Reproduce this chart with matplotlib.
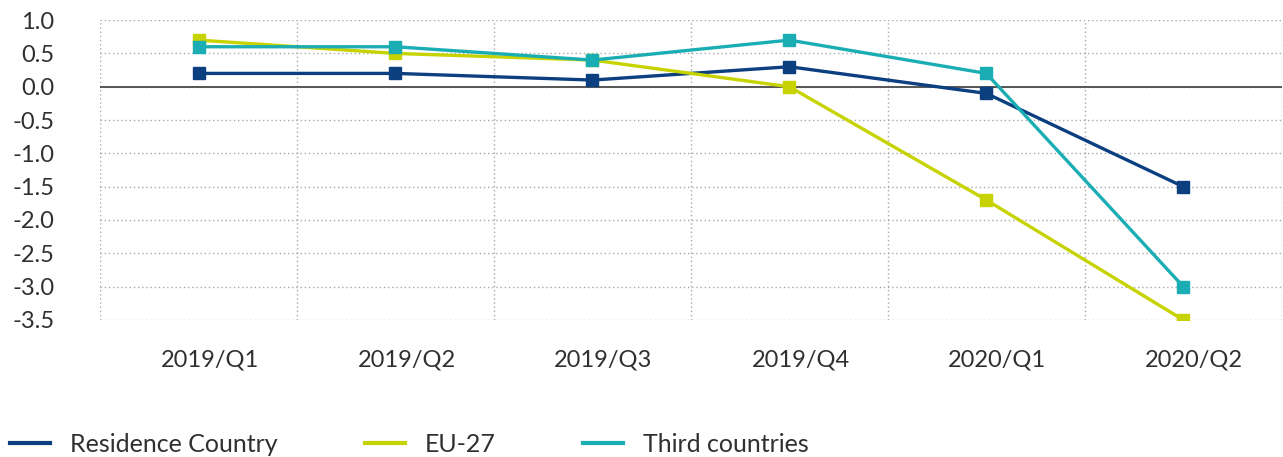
"""Quarterly change by origin of guests, 2019/Q1 - 2020/Q2."""

import matplotlib

matplotlib.use("Agg")
import matplotlib.pyplot as plt
from matplotlib.transforms import ScaledTranslation

quarters = ["2019/Q1", "2019/Q2", "2019/Q3", "2019/Q4", "2020/Q1", "2020/Q2"]
residence = [0.2, 0.2, 0.1, 0.3, -0.1, -1.5]
eu27 = [0.7, 0.5, 0.4, 0.0, -1.7, -3.5]
third = [0.6, 0.6, 0.4, 0.7, 0.2, -3.0]
y_ticks = [1.0, 0.5, 0.0, -0.5, -1.0, -1.5, -2.0, -2.5, -3.0, -3.5]

plt.rcParams["font.family"] = ["Lato", "DejaVu Sans"]
plt.rcParams["axes.unicode_minus"] = False
TEXT = "#303030"

fig = plt.figure(figsize=(12.83, 4.57), dpi=100, facecolor="white")
ax = fig.add_axes([0.078, 0.30, 0.921, 0.656])

x = list(range(len(quarters)))
series = [
    ("Residence Country", residence, "#0b3f7f"),
    ("EU-27", eu27, "#c6d300"),
    ("Third countries", third, "#1aaeb4"),
]
for label, vals, color in series:
    ax.plot(x, vals, color=color, lw=2.4, marker="s", markersize=8.5,
            label=label, zorder=3)

ax.axhline(0, color="#555555", lw=1.4, zorder=2)

ax.set_xlim(-0.5, len(quarters) - 0.5)
ax.set_ylim(-3.5, 1.0)
ax.set_yticks(y_ticks)
ax.set_yticklabels([f"{v:.1f}" for v in y_ticks])
ax.set_xticks(x)
ax.set_xticklabels(quarters)
ax.set_xticks([i - 0.5 for i in range(len(quarters) + 1)], minor=True)

ax.grid(axis="y", which="major", color="#a8a8a8", ls=(0, (1, 2)), lw=1.0)
ax.grid(axis="x", which="minor", color="#a8a8a8", ls=(0, (1, 2)), lw=1.0)
ax.grid(axis="x", which="major", visible=False)
for s in ax.spines.values():
    s.set_visible(False)

ax.tick_params(axis="both", which="both", length=0, labelsize=17, colors=TEXT)
ax.tick_params(axis="y", pad=33)
ax.tick_params(axis="x", pad=21)
offset = ScaledTranslation(8 / 72, 0, fig.dpi_scale_trans)
for lab in ax.get_xticklabels():
    lab.set_transform(lab.get_transform() + offset)

leg = fig.legend(
    loc="lower left",
    bbox_to_anchor=(-0.004, -0.03),
    ncol=3,
    frameon=False,
    fontsize=18,
    handlelength=1.6,
    handletextpad=0.8,
    columnspacing=3.5,
    labelcolor=TEXT,
    borderaxespad=0.2,
)
for h in leg.legend_handles:
    h.set_marker("")
    h.set_linewidth(3)

fig.savefig("out.png", dpi=100, facecolor="white")
